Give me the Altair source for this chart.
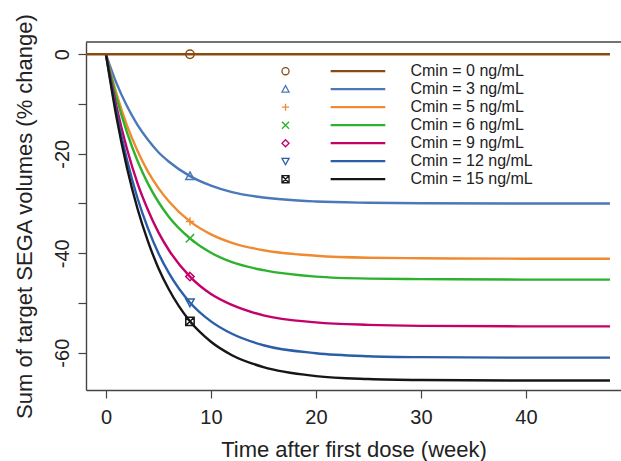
import altair as alt
import pandas as pd

# Simulated tumour response: weeks after the first dose
weeks = [0, 1, 2, 3, 4, 5, 6, 8, 10, 12, 15, 20, 25, 30, 40, 48]
baseline_weeks = [-2, 48]
cmin_levels = [0, 3, 5, 6, 9, 12, 15]

# % change in summed target SEGA volume for each trough concentration
change_cmin0 = [0, 0]
change_cmin3 = [0, -5.8, -10.4, -14.2, -17.2, -19.7, -21.6, -24.5, -26.4, -27.7, -28.8, -29.6, -29.85, -29.95, -30.0, -30.0]
change_cmin5 = [0, -7.9, -14.3, -19.4, -23.6, -26.9, -29.6, -33.6, -36.2, -37.9, -39.4, -40.5, -40.9, -41.0, -41.1, -41.1]
change_cmin6 = [0, -8.7, -15.7, -21.4, -26.0, -29.7, -32.7, -37.0, -39.9, -41.8, -43.4, -44.7, -45.1, -45.2, -45.3, -45.3]
change_cmin9 = [0, -10.5, -19.0, -25.9, -31.3, -35.8, -39.4, -44.7, -48.2, -50.4, -52.5, -53.9, -54.4, -54.6, -54.7, -54.7]
change_cmin12 = [0, -11.7, -21.2, -28.9, -35.0, -40.0, -44.0, -49.9, -53.7, -56.2, -58.5, -60.1, -60.7, -60.9, -61.0, -61.0]
change_cmin15 = [0, -12.6, -22.8, -31.0, -37.6, -43.0, -47.3, -53.7, -57.8, -60.5, -62.9, -64.7, -65.3, -65.5, -65.6, -65.6]

# Week at which the symbols are placed on each curve
marker_week = 8

labels = [f"Cmin = {c} ng/mL" for c in cmin_levels]
colors = ["#8B4A12", "#4A78B8", "#F08A30", "#2DB22D", "#C4006A", "#2A5EA8", "#161616"]
shapes = [
    "M-1,0A1,1 0 1,0 1,0A1,1 0 1,0 -1,0Z",          # open circle
    "M0,-1L1,0.8L-1,0.8Z",                             # triangle up
    "M-1,0L1,0M0,-1L0,1",                              # plus
    "M-1,-1L1,1M-1,1L1,-1",                            # cross
    "M0,-1L1,0L0,1L-1,0Z",                             # diamond
    "M0,1L1,-0.8L-1,-0.8Z",                            # triangle down
    "M-1,-1L1,-1L1,1L-1,1ZM-1,-1L1,1M-1,1L1,-1",       # boxed cross
]

series = [change_cmin3, change_cmin5, change_cmin6, change_cmin9, change_cmin12, change_cmin15]

rows = []
for w, v in zip(baseline_weeks, change_cmin0):
    rows.append({"week": w, "change": v, "label": labels[0]})
for lab, vals in zip(labels[1:], series):
    for w, v in zip(weeks, vals):
        rows.append({"week": w, "change": v, "label": lab})
curves = pd.DataFrame(rows)

marker_idx = weeks.index(marker_week)
markers = pd.DataFrame({
    "week": [marker_week] * len(labels),
    "change": [change_cmin0[0]] + [s[marker_idx] for s in series],
    "label": labels,
})

# Legend entries laid out in data units in the upper-right part of the panel
legend_top, legend_step = -3.4, -3.62
legend = pd.DataFrame({
    "label": labels,
    "y": [legend_top + i * legend_step for i in range(len(labels))],
})
legend["sym_x"] = 17.1
legend["line_x"] = 21.4
legend["line_x2"] = 26.6
legend["text_x"] = 29.0

FONT = "Liberation Sans"
x_dom = [-1.9, 49.05]
y_dom = [-67.5, 2.47]

color_scale = alt.Scale(domain=labels, range=colors)
shape_scale = alt.Scale(domain=labels, range=shapes)

x_axis = alt.Axis(
    values=[0, 10, 20, 30, 40], title="Time after first dose (week)",
    grid=False, tickSize=8, labelPadding=9, titlePadding=12,
    labelFontSize=20, titleFontSize=22, labelFont=FONT, titleFont=FONT,
    labelColor="#222222", titleColor="#222222", titleFontWeight="normal",
    domainColor="#444444", tickColor="#444444", domainWidth=1.4, tickWidth=1.2,
)
y_axis = alt.Axis(
    values=[0, -10, -20, -30, -40, -50, -60],
    labelExpr="datum.value % 20 == 0 ? toString(datum.value) : ''",
    title="Sum of target SEGA volumes (% change)",
    grid=False, tickSize=8, labelPadding=10,
    labelAngle=-90, labelAlign="center", labelBaseline="alphabetic",
    labelFontSize=20, titleFontSize=22, labelFont=FONT, titleFont=FONT,
    labelColor="#222222", titleColor="#222222", titleFontWeight="normal",
    titleAngle=-90, titleAlign="center", titleBaseline="alphabetic",
    titleX=-55, titleY=174,
    domainColor="#444444", tickColor="#444444", domainWidth=1.4, tickWidth=1.2,
)

X = alt.X("week:Q", scale=alt.Scale(domain=x_dom, nice=False, zero=False), axis=x_axis)
Y = alt.Y("change:Q", scale=alt.Scale(domain=y_dom, nice=False, zero=False), axis=y_axis)

decline = alt.Chart(curves).transform_filter(
    alt.datum.label != labels[0]
).mark_line(strokeWidth=2.4, interpolate="monotone", clip=True).encode(
    x=X, y=Y,
    color=alt.Color("label:N", scale=color_scale, legend=None),
    detail="label:N",
)

flat = alt.Chart(curves).transform_filter(
    alt.datum.label == labels[0]
).mark_line(strokeWidth=2.4, clip=True).encode(
    x=X, y=Y,
    color=alt.Color("label:N", scale=color_scale, legend=None),
)

points = alt.Chart(markers).mark_point(filled=False, size=70, strokeWidth=1.5, opacity=1).encode(
    x=X, y=Y,
    color=alt.Color("label:N", scale=color_scale, legend=None),
    shape=alt.Shape("label:N", scale=shape_scale, legend=None),
)

leg_sym = alt.Chart(legend).mark_point(filled=False, size=50, strokeWidth=1.3, opacity=1).encode(
    x=alt.X("sym_x:Q"), y=alt.Y("y:Q"),
    color=alt.Color("label:N", scale=color_scale, legend=None),
    shape=alt.Shape("label:N", scale=shape_scale, legend=None),
)
leg_line = alt.Chart(legend).mark_rule(strokeWidth=2.3).encode(
    x=alt.X("line_x:Q"), x2="line_x2:Q", y=alt.Y("y:Q"),
    color=alt.Color("label:N", scale=color_scale, legend=None),
)
leg_text = alt.Chart(legend).mark_text(
    align="left", baseline="middle", font=FONT, fontSize=16, color="#222222"
).encode(
    x=alt.X("text_x:Q"), y=alt.Y("y:Q"), text="label:N",
)

# Upper frame line of the panel
top_frame = alt.Chart(pd.DataFrame({"k": [0]})).mark_rule(color="#444444", strokeWidth=1.4).encode(
    x=alt.value(0), x2=alt.value(535), y=alt.value(0)
)

chart = alt.layer(
    decline, flat, points, leg_line, leg_sym, leg_text, top_frame
).properties(
    width=535, height=348,
    autosize=alt.AutoSizeParams(type="none"),
    padding={"left": 86, "top": 42, "right": 0, "bottom": 71},
    background="white",
).configure_view(stroke=None)

chart.save("out.html", embed_options={"renderer": "svg", "actions": False})
